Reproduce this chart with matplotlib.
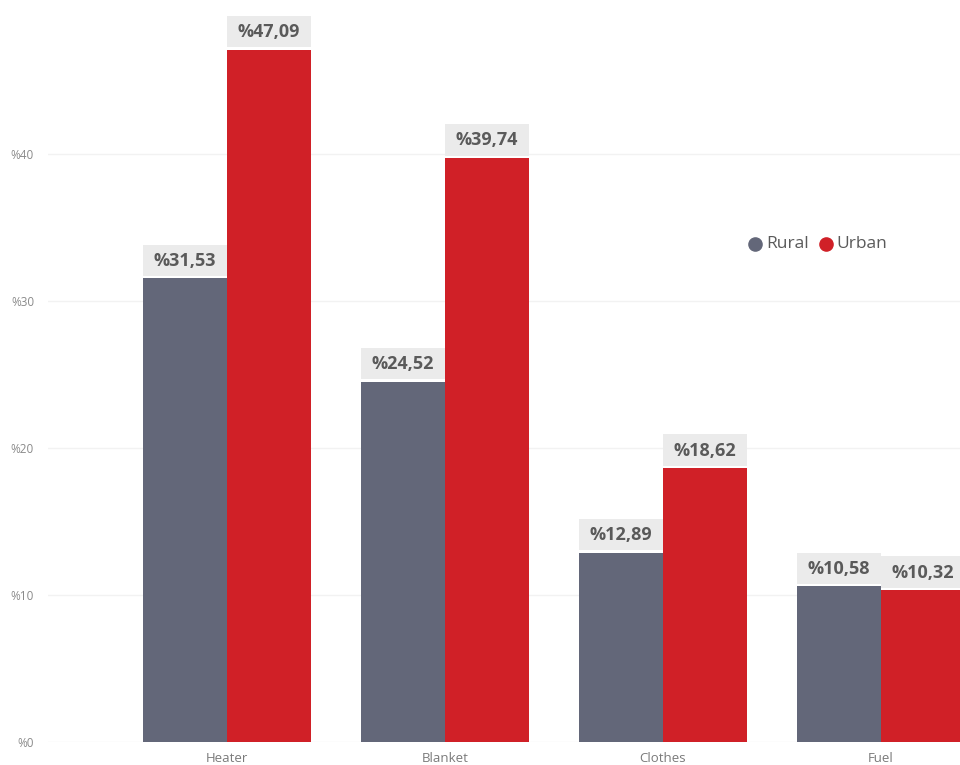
import matplotlib.pyplot as plt
import numpy as np

plt.rcParams['font.family'] = ['Open Sans', 'DejaVu Sans']

# Share of households by heating item, rural vs urban
categories = ['Heater', 'Blanket', 'Clothes', 'Fuel']
rural = [31.53, 24.52, 12.89, 10.58]
urban = [47.09, 39.74, 18.62, 10.32]
yticks = [0, 10, 20, 30, 40]

rural_color = '#636779'
urban_color = '#d02027'
label_bg = '#ebebeb'
text_gray = '#5a5a5a'

fig = plt.figure(figsize=(9.6, 7.65), dpi=100)
ax = fig.add_axes([0.05, 0.030, 1.004, 0.961])

x = np.arange(len(categories))
w = 0.385

ax.bar(x - w / 2, rural, width=w, color=rural_color, zorder=3)
ax.bar(x + w / 2, urban, width=w, color=urban_color, zorder=3)

# value tags: light box sitting just above each bar
for xs, vals in [(x - w / 2, rural), (x + w / 2, urban)]:
    ax.bar(xs, [2.15] * len(vals), bottom=[v + 0.15 for v in vals],
           width=w, color=label_bg, zorder=2)
    for xi, v in zip(xs, vals):
        ax.text(xi, v + 1.2, '%' + f'{v:.2f}'.replace('.', ','),
                ha='center', va='center', fontsize=13, fontweight='bold',
                color=text_gray, zorder=4)

ax.set_xlim(-0.82, 3.6)
ax.set_ylim(0, 50)
ax.set_yticks(yticks)
ax.set_yticklabels(['%' + str(t) for t in yticks], fontsize=8.5, color='#8a8a8a')
ax.set_xticks(x)
ax.set_xticklabels(categories, fontsize=9.5, color='#7a7a7a')
ax.tick_params(length=0)
ax.tick_params(axis='x', pad=7)
ax.tick_params(axis='y', pad=10)
ax.grid(axis='y', color='#f2f2f2', linewidth=1, zorder=0)
for s in ax.spines.values():
    s.set_visible(False)

# legend
ax.scatter([], [], color=rural_color, s=90, label='Rural')
ax.scatter([], [], color=urban_color, s=90, label='Urban')
fig.legend(loc='center', bbox_to_anchor=(0.85, 0.681), ncol=2, frameon=False,
           handletextpad=0.0, columnspacing=0.4, fontsize=12.5,
           labelcolor=text_gray, handlelength=1.2)

fig.savefig('out.png', dpi=100)
